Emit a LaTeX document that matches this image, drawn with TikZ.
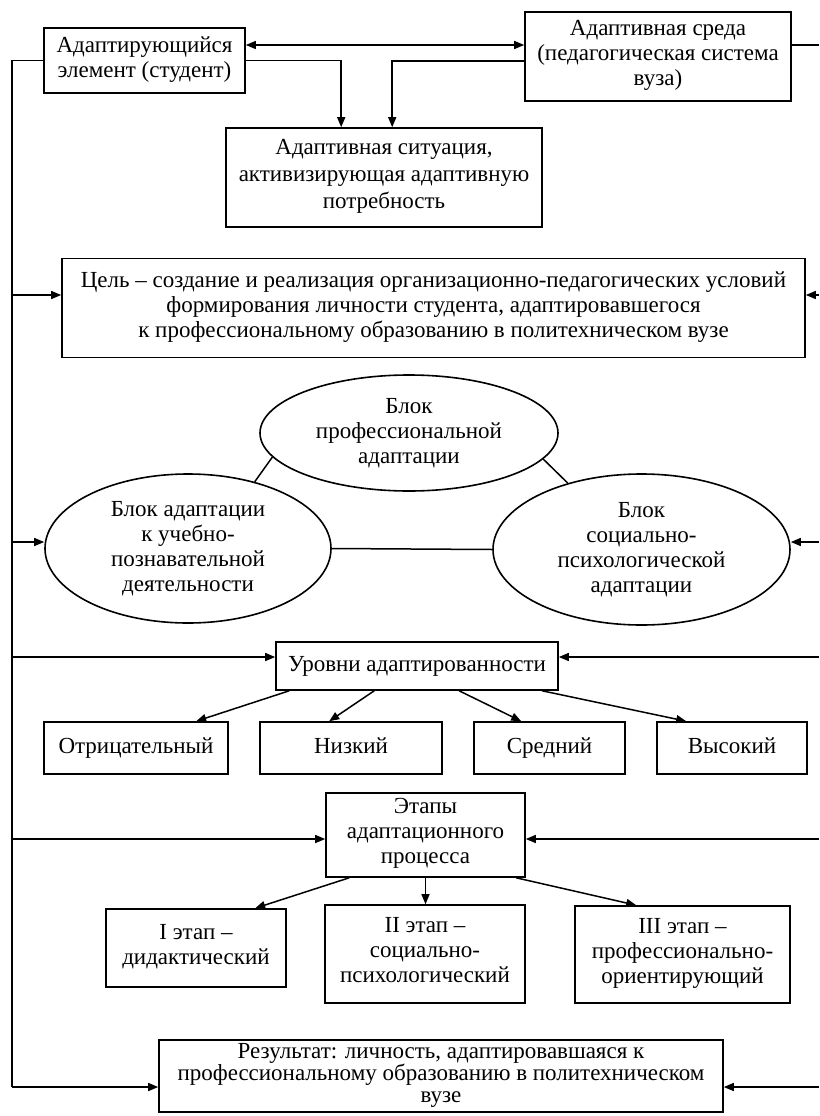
\documentclass[tikz,border=0pt]{standalone}
\usepackage{fontspec}
\setmainfont{Liberation Serif}
\usetikzlibrary{arrows.meta}
\usetikzlibrary{shapes.geometric}
\usetikzlibrary{calc}

\tikzset{
  blok/.style={draw, line width=1.6pt, align=center, inner sep=0pt, font=\fontsize{23}{25}\selectfont,
    execute at begin node=\strut, execute at end node=\strut},
  oval/.style={draw, ellipse, line width=1.6pt, align=center, inner sep=0pt, font=\fontsize{23}{25}\selectfont},
  svyaz/.style={line width=1.5pt},
  strelka/.style={line width=1.5pt, -{Triangle[length=10pt,width=8pt]}},
  dvustrelka/.style={line width=1.5pt, {Triangle[length=10pt,width=8pt]}-{Triangle[length=10pt,width=8pt]}}
}

\begin{document}
\begin{tikzpicture}[x=1pt,y=-1pt]

\useasboundingbox (0,0) rectangle (819,1116);

%upper boxes
\node[blok, minimum width=201, minimum height=65] (elem) at (144.5,60.5) {Адаптирующийся\\элемент (студент)};
\node[blok, minimum width=266, minimum height=89] (sreda) at (658,56.5) {Адаптивная среда\\(педагогическая система\\вуза)};
\node[blok, minimum width=316, minimum height=99, font=\fontsize{23}{27}\selectfont] (sit) at (384,177.5) {Адаптивная ситуация,\\активизирующая адаптивную\\потребность};

%goal
\node[blok, minimum width=743, minimum height=99] (cel) at (433.5,308) {Цель -- создание и реализация организационно-педагогических условий\\формирования личности студента, адаптировавшегося\\к профессиональному образованию в политехническом вузе};

%three blocks
\node[oval, minimum width=298, minimum height=116] (prof) at (409,433) {Блок\\профессиональной\\адаптации};
\node[oval, minimum width=286, minimum height=149] (ucheb) at (188,548.5) {Блок адаптации\\к учебно-\\познавательной\\деятельности};
\node[oval, minimum width=297, minimum height=151] (soc) at (641.5,549.5) {Блок\\социально-\\психологической\\адаптации};

%levels
\node[blok, minimum width=282, minimum height=48] (urov) at (417,666) {Уровни адаптированности};
\node[blok, minimum width=184, minimum height=52] (otr) at (136,748) {Отрицательный};
\node[blok, minimum width=182, minimum height=52] (niz) at (351,748) {Низкий};
\node[blok, minimum width=151, minimum height=52] (sred) at (549.5,748) {Средний};
\node[blok, minimum width=150, minimum height=52] (vys) at (732,748) {Высокий};

%stages
\node[blok, minimum width=199, minimum height=84] (etapy) at (425.5,835) {Этапы\\адаптационного\\процесса};
\node[blok, minimum width=180, minimum height=78] (et1) at (196,948) {I этап --\\дидактический};
\node[blok, minimum width=200, minimum height=98] (et2) at (425,954) {II этап --\\социально-\\психологический};
\node[blok, minimum width=215, minimum height=97] (et3) at (682.5,954.5) {III этап --\\профессионально-\\ориентирующий};

%result
\node[blok, minimum width=564, minimum height=72, font=\fontsize{23}{22}\selectfont] (rez) at (441,1076) {Результат: личность, адаптировавшаяся к\\профессиональному образованию в политехническом\\вузе};

%left wire
\coordinate (b1) at (12,295);
\coordinate (b2) at (12,542);
\coordinate (b3) at (12,657);
\coordinate (b4) at (12,839);
\coordinate (b5) at (12,1087);

%right wire
\coordinate (r0) at (819,45);
\coordinate (r1) at (819,295);
\coordinate (r2) at (819,542);
\coordinate (r3) at (819,657);
\coordinate (r4) at (819,839);
\coordinate (r5) at (819,1087);

%top links
\coordinate (t0) at (400,45);
\coordinate (t1) at (400,61);
\draw[dvustrelka] (t0 -| elem.east) -- (t0 -| sreda.west);
\draw[strelka] (elem.east) -| ([xshift=116pt]sit.north west);
\draw[strelka] (t1 -| sreda.west) -| ([xshift=167pt]sit.north west);
\draw[svyaz] (r0 -| sreda.east) -- (r0);

%left wire with arrows
\draw[svyaz] (elem.west) -| (b5);
\draw[strelka] (b1) -- (b1 -| cel.west);
\draw[strelka] (b2) -- (b2 -| ucheb.west);
\draw[strelka] (b3) -- (b3 -| urov.west);
\draw[strelka] (b4) -- (b4 -| etapy.west);
\draw[strelka] (b5) -- (b5 -| rez.west);

%arrows from the right
\draw[strelka] (r1) -- (r1 -| cel.east);
\draw[strelka] (r2) -- (r2 -| soc.east);
\draw[strelka] (r3) -- (r3 -| urov.east);
\draw[strelka] (r4) -- (r4 -| etapy.east);
\draw[strelka] (r5) -- (r5 -| rez.east);

%blocks joined
\draw[svyaz] (prof.190) -- (ucheb.45);
\draw[svyaz] (prof.349) -- (soc.138);
\draw[svyaz] (ucheb.east) -- (soc.west);

%levels arrows
\draw[strelka] ([xshift=14pt]urov.south west) -- ([xshift=153pt]otr.north west);
\draw[strelka] ([xshift=99pt]urov.south west) -- ([xshift=70pt]niz.north west);
\draw[strelka] ([xshift=184pt]urov.south west) -- ([xshift=48pt]sred.north west);
\draw[strelka] ([xshift=267pt]urov.south west) -- ([xshift=30pt]vys.north west);

%stages arrows
\draw[strelka] ([xshift=24pt]etapy.south west) -- ([xshift=150pt]et1.north west);
\draw[strelka] (etapy.south) -- (etapy.south |- et2.north);
\draw[strelka] ([xshift=191pt]etapy.south west) -- ([xshift=62pt]et3.north west);

\end{tikzpicture}
\end{document}
